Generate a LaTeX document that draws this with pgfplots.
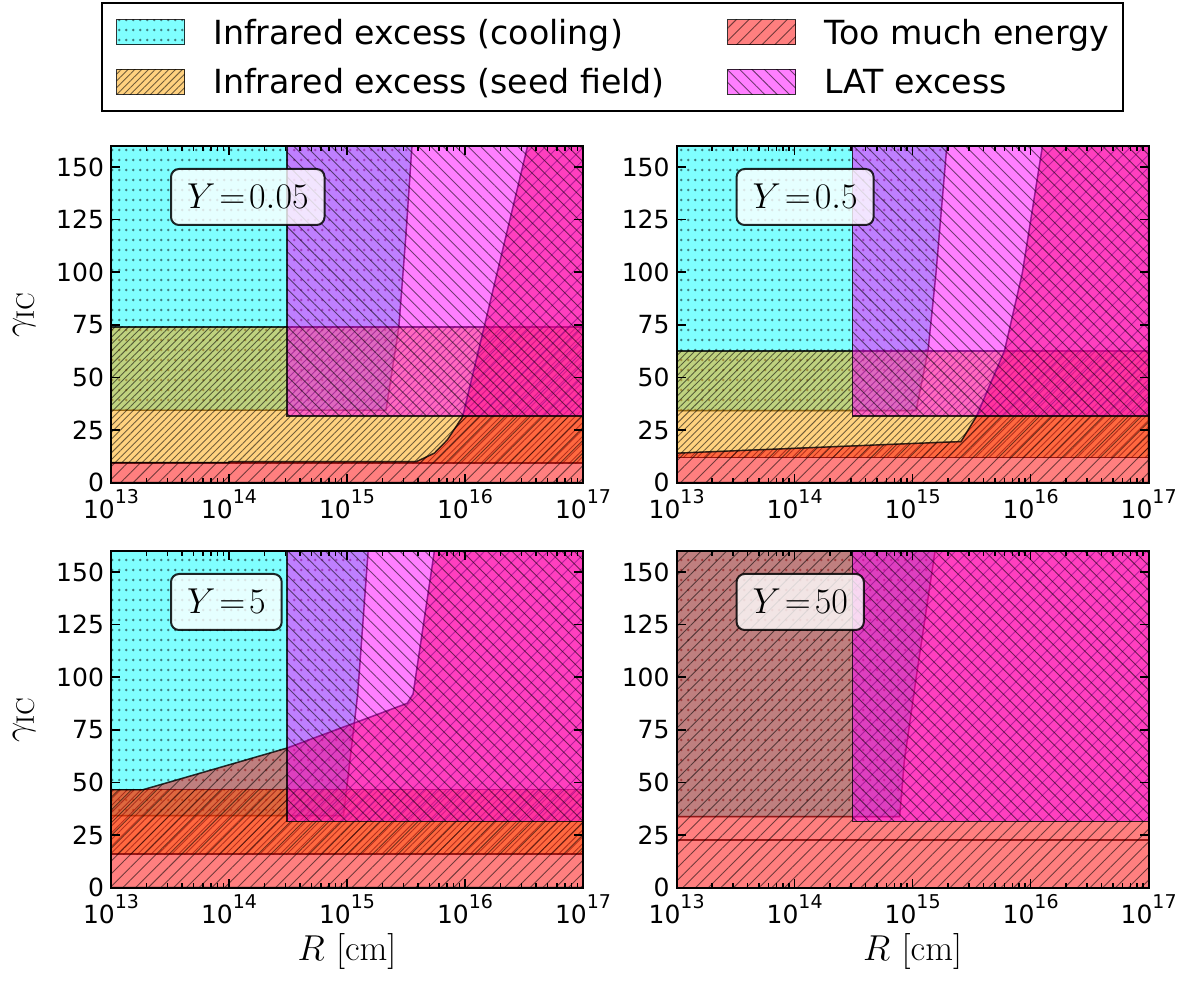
\RequirePackage{fix-cm}
\documentclass[border=0pt]{standalone}
\usepackage[no-math]{fontspec}
\setmainfont{DejaVu Sans}
\usepackage{pgfplots}
\pgfplotsset{compat=1.18}
\usepgfplotslibrary{groupplots}
\usetikzlibrary{calc,patterns,patterns.meta}

\definecolor{coolc}{RGB}{0,255,255}
\definecolor{seedc}{RGB}{255,165,0}
\definecolor{hotc}{RGB}{255,0,0}
\definecolor{latc}{RGB}{255,0,255}

% dot hatch on a 7 x 10 px grid
\pgfdeclarepatternformonly{rdots}{\pgfqpoint{0pt}{0pt}}{\pgfqpoint{3.65pt}{5pt}}{\pgfqpoint{3.65pt}{5pt}}{%
  \pgfpathcircle{\pgfqpoint{1.8pt}{2.5pt}}{0.72pt}\pgfusepath{fill}}

\tikzset{
  edge/.style={draw=black, draw opacity=0.55, line width=0.7pt, fill opacity=0.5},
  stcool/.style={edge, fill=coolc, postaction={pattern=rdots, pattern color=black}},
  stseed/.style={edge, fill=seedc, postaction={pattern={Lines[angle=45,distance=2.4pt,line width=0.45pt]}, pattern color=black}},
  sthot/.style={edge, fill=hotc, postaction={pattern={Lines[angle=45,distance=4.5pt,line width=0.45pt]}, pattern color=black}},
  stlat/.style={edge, fill=latc, postaction={pattern={Lines[angle=-45,distance=4.4pt,line width=0.45pt]}, pattern color=black}},
  ybox/.style={anchor=north west, draw=black, draw opacity=0.85, line width=1pt,
    fill=white, fill opacity=0.8, text opacity=1, rounded corners=4pt,
    inner xsep=8pt, inner ysep=7.5pt, text height=12.5pt, text depth=0.5pt,
    font=\fontsize{18}{20}\selectfont, xshift=29.5pt, yshift=-11pt},
}

\newcommand{\dec}[1]{10\raisebox{7.4pt}{\fontsize{9.5}{10}\selectfont #1}}

\pgfplotsset{
  panel/.style={
    scale only axis, width=236pt, height=168.3pt,
    xmode=log, xmin=1e13, xmax=1e17, ymin=0, ymax=160,
    xtick={1e13,1e14,1e15,1e16,1e17},
    xticklabels={\dec{13},\dec{14},\dec{15},\dec{16},\dec{17}},
    minor xtick={2e13,3e13,4e13,5e13,6e13,7e13,8e13,9e13,
                 2e14,3e14,4e14,5e14,6e14,7e14,8e14,9e14,
                 2e15,3e15,4e15,5e15,6e15,7e15,8e15,9e15,
                 2e16,3e16,4e16,5e16,6e16,7e16,8e16,9e16},
    ytick={0,25,50,75,100,125,150},
    tick align=inside, major tick length=4.5pt, minor tick length=2.5pt,
    every tick/.style={black, line width=0.8pt},
    axis line style={line width=1pt},
    tick label style={font=\fontsize{12.5}{14}\selectfont},
    /pgf/number format/assume math mode=true,
    axis on top=true,
    xlabel style={at={(axis description cs:0.5,-0.19)}, anchor=center, font=\fontsize{18}{20}\selectfont},
    ylabel style={at={(axis description cs:-0.184,0.5)}, anchor=center, font=\fontsize{18}{20}\selectfont},
  }
}

\begin{document}
\begin{tikzpicture}
\begin{groupplot}[group style={group size=2 by 2, horizontal sep=46.8pt, vertical sep=34.2pt}, panel]

% ---------------- Y = 0.05
\nextgroupplot[ylabel={$\gamma_{\rm IC}$},
  legend columns=2, legend cell align=left,
  legend image code/.code={\draw[#1] (0pt,-6.25pt) rectangle (34pt,6.25pt);},
  legend style={at={(0,1)}, anchor=north west, xshift=-5pt, yshift=72pt,
    draw=black, line width=1pt, inner xsep=7pt, inner ysep=6.5pt,
    font=\fontsize{16.6}{20}\selectfont,
    /tikz/column sep=14pt, /tikz/row sep=9pt,
    /tikz/every even column/.append style={column sep=31pt},
    nodes={inner sep=0pt, text height=14pt, text depth=2pt}}]
\addlegendimage{stcool}
\addlegendimage{sthot}
\addlegendimage{stseed}
\addlegendimage{stlat}
\legend{Infrared excess (cooling), Too much energy, Infrared excess (seed field), LAT excess}
\addplot[stcool, forget plot] coordinates {(1e13,34.4) (2.14e15,34.4) (2.75e15,74) (3.16e15,118) (3.55e15,160) (1e13,160)} -- cycle;
\addplot[stseed, forget plot] coordinates {(1e13,9.3) (1e17,9.3) (1e17,74) (1e13,74)} -- cycle;
\addplot[sthot, forget plot] coordinates {(1e13,0) (1e17,0) (1e17,160) (3.39e16,160) (9.55e15,31.4) (7.08e15,20.3) (5.5e15,14) (3.89e15,10) (1e14,10) (1e14,9.5) (1e13,9.5)} -- cycle;
\addplot[stlat, forget plot] coordinates {(3.09e14,31.7) (1e17,31.7) (1e17,160) (3.09e14,160)} -- cycle;
\node[ybox] at (rel axis cs:0,1) {$Y\!=\!0.05$};

% ---------------- Y = 0.5
\nextgroupplot
\addplot[stcool] coordinates {(1e13,34.2) (1.07e15,34.2) (1.35e15,62.6) (1.58e15,100) (1.95e15,160) (1e13,160)} -- cycle;
\addplot[stseed] coordinates {(1e13,11.9) (1e17,11.9) (1e17,62.6) (1e13,62.6)} -- cycle;
\addplot[sthot] coordinates {(1e13,0) (1e17,0) (1e17,160) (1.26e16,160) (8.5e15,99.5) (6.0e15,62.6) (3.47e15,31.4) (2.57e15,19.5) (1e15,18.6) (1e14,16.3) (1e13,14.0)} -- cycle;
\addplot[stlat] coordinates {(3.09e14,31.7) (1e17,31.7) (1e17,160) (3.09e14,160)} -- cycle;
\node[ybox] at (rel axis cs:0,1) {$Y\!=\!0.5$};

% ---------------- Y = 5
\nextgroupplot[ylabel={$\gamma_{\rm IC}$}, xlabel={$R\ [\mathrm{cm}]$}]
\addplot[stcool] coordinates {(1e13,34.2) (9.33e14,34.2) (1.23e15,91.6) (1.51e15,160) (1e13,160)} -- cycle;
\addplot[stseed] coordinates {(1e13,15.9) (1e17,15.9) (1e17,46.5) (1e13,46.5)} -- cycle;
\addplot[sthot] coordinates {(1e13,0) (1e17,0) (1e17,160) (5.5e15,160) (3.63e15,92) (3.24e15,87.6) (3.09e14,66.3) (1.86e13,46.5) (1e13,46.5)} -- cycle;
\addplot[stlat] coordinates {(3.09e14,31.5) (1e17,31.5) (1e17,160) (3.09e14,160)} -- cycle;
\node[ybox] at (rel axis cs:0,1) {$Y\!=\!5$};

% ---------------- Y = 50
\nextgroupplot[xlabel={$R\ [\mathrm{cm}]$}]
\addplot[stcool] coordinates {(1e13,33.7) (7.76e14,33.7) (8.5e14,60) (1.07e15,99.5) (1.55e15,160) (1e13,160)} -- cycle;
\addplot[stseed] coordinates {(1e13,22.7) (1e17,22.7)} -- cycle;
\addplot[sthot] coordinates {(1e13,0) (1e17,0) (1e17,160) (1e13,160)} -- cycle;
\addplot[stlat] coordinates {(3.09e14,31.5) (1e17,31.5) (1e17,160) (3.09e14,160)} -- cycle;
\node[ybox] at (rel axis cs:0,1) {$Y\!=\!50$};

\end{groupplot}
\pgfresetboundingbox
\path[use as bounding box] ($(group c1r1.north west)+(-55.5pt,73pt)$) rectangle ($(group c2r2.south east)+(18.7pt,-48.7pt)$);
\end{tikzpicture}
\end{document}
